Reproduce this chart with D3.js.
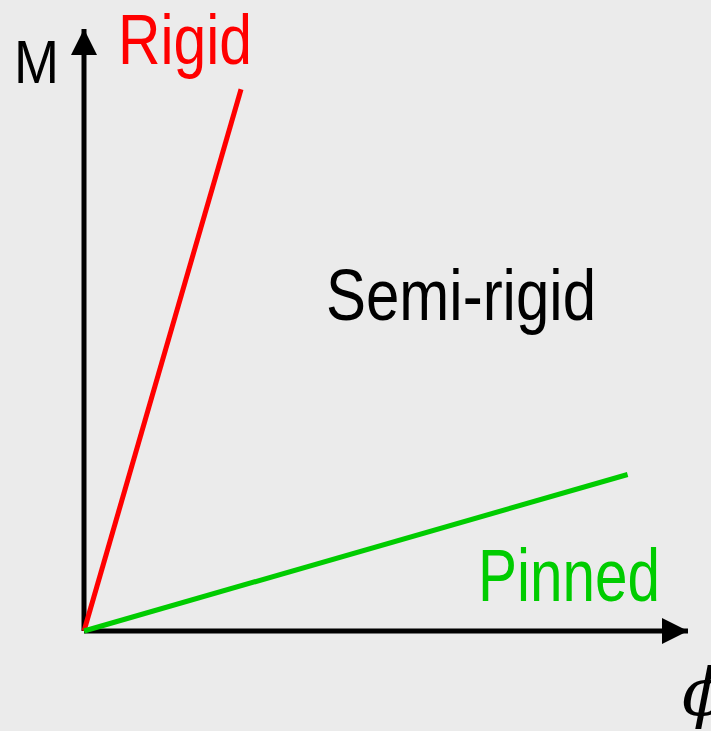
<!DOCTYPE html>
<html>
<head>
<meta charset="utf-8">
<script src="https://cdn.jsdelivr.net/npm/d3@7"></script>
<style>
  html, body { margin: 0; padding: 0; background: #ebebeb; }
  svg { display: block; }
  .lbl { font-family: "Liberation Sans", Arial, sans-serif; }
</style>
</head>
<body>
<svg id="chart" width="711" height="731"></svg>
<script>
// connection types: end point of each M-phi line (origin is 0,0)
const connections = ["Rigid", "Pinned"];
const endPhi = [2.6, 9.0];
const endM = [9.0, 2.6];
const lineColors = ["#ff0000", "#00cc00"];
const axisMax = [10, 10]; // phi, M

const svg = d3.select("#chart");
const width = +svg.attr("width");
const height = +svg.attr("height");

const x = d3.scaleLinear().domain([0, axisMax[0]]).range([84, 688]);
const y = d3.scaleLinear().domain([0, axisMax[1]]).range([631, 29]);

svg.append("rect")
    .attr("width", width)
    .attr("height", height)
    .attr("fill", "#ebebeb");

// arrow heads
const defs = svg.append("defs");
defs.append("marker")
    .attr("id", "arrow")
    .attr("viewBox", "0 0 26 26")
    .attr("refX", 26)
    .attr("refY", 13)
    .attr("markerWidth", 26)
    .attr("markerHeight", 26)
    .attr("markerUnits", "userSpaceOnUse")
    .attr("orient", "auto")
    .append("path")
    .attr("d", "M0,0 L26,13 L0,26 Z")
    .attr("fill", "#000");

// axes
svg.append("line")
    .attr("x1", x(0)).attr("y1", y(0))
    .attr("x2", x(0)).attr("y2", y(axisMax[1]))
    .attr("stroke", "#000")
    .attr("stroke-width", 5)
    .attr("marker-end", "url(#arrow)");

svg.append("line")
    .attr("x1", x(0)).attr("y1", y(0))
    .attr("x2", x(axisMax[0])).attr("y2", y(0))
    .attr("stroke", "#000")
    .attr("stroke-width", 5)
    .attr("marker-end", "url(#arrow)");

// lines
const line = d3.line().x((d) => x(d[0])).y((d) => y(d[1]));
const data = connections.map((name, i) => ({
    name: name,
    color: lineColors[i],
    pts: [[0, 0], [endPhi[i], endM[i]]],
}));

svg.selectAll(".conn")
    .data(data)
    .enter()
    .append("path")
    .attr("class", "conn")
    .attr("d", (d) => line(d.pts))
    .attr("stroke", (d) => d.color)
    .attr("stroke-width", 5)
    .attr("fill", "none");

// labels (narrow face squeezed from Liberation Sans)
function label(txt, lx, ly, size, len, fill) {
    svg.append("text").attr("class", "lbl")
        .attr("x", lx).attr("y", ly)
        .attr("font-size", size)
        .attr("fill", fill)
        .attr("textLength", len)
        .attr("lengthAdjust", "spacingAndGlyphs")
        .text(txt);
}
label("M", 14, 83, 62, 45, "#000");
label(connections[0], 118, 64, 71, 134, lineColors[0]);
label("Semi-rigid", 326, 320, 73, 270, "#000");
label(connections[1], 478, 601, 74, 182, lineColors[1]);

svg.append("text")
    .attr("x", 682).attr("y", 715)
    .attr("font-family", "'DejaVu Serif', serif")
    .attr("font-style", "italic")
    .attr("font-size", 66)
    .attr("fill", "#000")
    .text("\u03d5");
</script>
</body>
</html>
